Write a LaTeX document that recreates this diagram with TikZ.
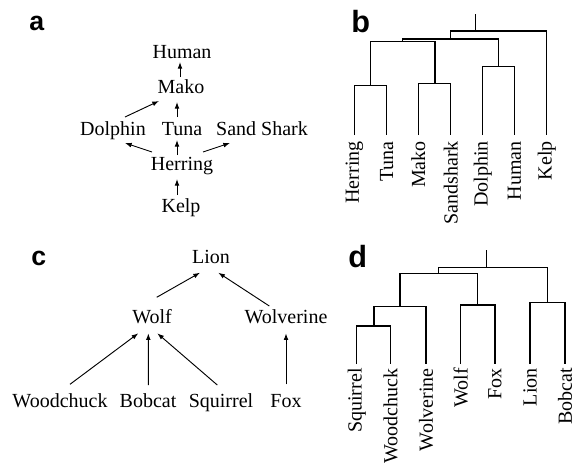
\documentclass[tikz,border=0pt]{standalone}
\usepackage{fontspec}
\setmainfont{Liberation Serif}
\setsansfont{Liberation Sans}
\usetikzlibrary{arrows.meta,calc}

\begin{document}
\begin{tikzpicture}
  [x=0.75pt, y=-0.75pt,
   taxon/.style={font=\fontsize{15}{18}\selectfont, anchor=base, inner sep=0pt},
   leaf/.style={font=\fontsize{15}{18}\selectfont, rotate=90, anchor=east, inner sep=0pt},
   arr/.style={-{Latex[length=5pt,width=3.6pt]}, line width=0.7pt},
   branch/.style={line width=1pt},
   panel/.style={font=\sffamily\bfseries\fontsize{20}{24}\selectfont, anchor=base west, inner sep=0pt},
   bigpanel/.style={panel, font=\sffamily\bfseries\fontsize{23}{26}\selectfont}]

  \useasboundingbox (0,0) rectangle (584,464);

  % Panel labels
  \node[panel] (la) at (29,30) {a};
  \node[bigpanel] (lb) at (351,32) {b};
  \node[panel] (lc) at (31,265) {c};
  \node[bigpanel] (ld) at (348,267) {d};

  % a: taxa
  \node[taxon] (human) at (182,58) {Human};
  \node[taxon] (mako) at (181,93) {Mako};
  \node[taxon] (dolphin) at (113,135) {Dolphin};
  \node[taxon] (tuna) at (182,135) {Tuna};
  \node[taxon] (sandshark) at (262,135) {Sand Shark};
  \node[taxon] (herring) at (182,170) {Herring};
  \node[taxon] (kelp) at (181,212) {Kelp};

  % a: arrows
  \draw[arr] ($(mako.base)+(-1,-16)$) -- ($(human.base)+(-2,4)$);
  \draw[arr] ($(dolphin.base)+(12,-18)$) -- ($(mako.base)+(-22,8)$);
  \draw[arr] ($(tuna.base)+(-5,-18)$) -- ($(mako.base)+(-4,9)$);
  \draw[arr] ($(herring.base)+(-30,-18)$) -- ($(dolphin.base)+(12,8)$);
  \draw[arr] ($(herring.base)+(-5,-15)$) -- ($(tuna.base)+(-5,5)$);
  \draw[arr] ($(herring.base)+(21,-18)$) -- ($(sandshark.base)+(-32,8)$);
  \draw[arr] ($(kelp.base)+(-4,-17)$) -- ($(herring.base)+(-5,9)$);

  % b: dendrogram
  \draw[branch] (475.7,14) -- (475.7,31);
  \draw[branch] (450.7,39) -- (450.7,31) -- (546.7,31) -- (546.7,135);
  \draw[branch] (402.7,41.3) -- (402.7,39) -- (498.3,39) -- (498.3,66.7);
  \draw[branch] (370.7,85.3) -- (370.7,41.3) -- (435,41.3) -- (435,83.3);
  \draw[branch] (354.3,135) -- (354.3,85.3) -- (386.7,85.3) -- (386.7,135);
  \draw[branch] (418.3,135) -- (418.3,83.3) -- (450.7,83.3) -- (450.7,135);
  \draw[branch] (482.7,135) -- (482.7,66.7) -- (514.3,66.7) -- (514.3,135);
  \foreach \x/\name in {354.3/Herring, 386.7/Tuna, 418.3/Mako, 450.7/Sandshark,
                        482.7/Dolphin, 514.3/Human, 546.7/Kelp}
    \node[leaf] (b-\name) at (\x,141) {\name};

  % c: taxa
  \node[taxon] (lion) at (211,263) {Lion};
  \node[taxon] (wolf) at (152,323) {Wolf};
  \node[taxon] (wolverine) at (286,323) {Wolverine};
  \node[taxon] (woodchuck) at (60,407) {Woodchuck};
  \node[taxon] (bobcat) at (148,407) {Bobcat};
  \node[taxon] (squirrel) at (221,407) {Squirrel};
  \node[taxon] (fox) at (286,407) {Fox};

  % c: arrows
  \draw[arr] ($(wolf.base)+(4.7,-25.7)$) -- ($(lion.base)+(-11,9.7)$);
  \draw[arr] ($(wolverine.base)+(-16.7,-17)$) -- ($(lion.base)+(7.3,9.7)$);
  \draw[arr] ($(woodchuck.base)+(10,-22.7)$) -- ($(wolf.base)+(-13.7,10.3)$);
  \draw[arr] ($(bobcat.base)+(0.3,-22)$) -- ($(wolf.base)+(-3.7,10.3)$);
  \draw[arr] ($(squirrel.base)+(-3.7,-22)$) -- ($(wolf.base)+(5.3,10.3)$);
  \draw[arr] ($(fox.base)+(0,-22.7)$) -- ($(wolverine.base)+(0,10.3)$);

  % d: dendrogram
  \draw[branch] (486.7,250) -- (486.7,267.7);
  \draw[branch] (438.3,273.3) -- (438.3,267.7) -- (547.3,267.7) -- (547.3,302.7);
  \draw[branch] (400,306.7) -- (400,273.3) -- (477.7,273.3) -- (477.7,305);
  \draw[branch] (374,326) -- (374,306.7) -- (426,306.7) -- (426,364);
  \draw[branch] (356.7,364) -- (356.7,326) -- (390.7,326) -- (390.7,364);
  \draw[branch] (460.7,364) -- (460.7,305) -- (495,305) -- (495,364);
  \draw[branch] (530,364) -- (530,302.7) -- (565,302.7) -- (565,364);
  \foreach \x/\name in {356.7/Squirrel, 390.7/Woodchuck, 426/Wolverine, 460.7/Wolf,
                        495/Fox, 530/Lion, 565/Bobcat}
    \node[leaf] (d-\name) at (\x,368) {\name};
\end{tikzpicture}
\end{document}
